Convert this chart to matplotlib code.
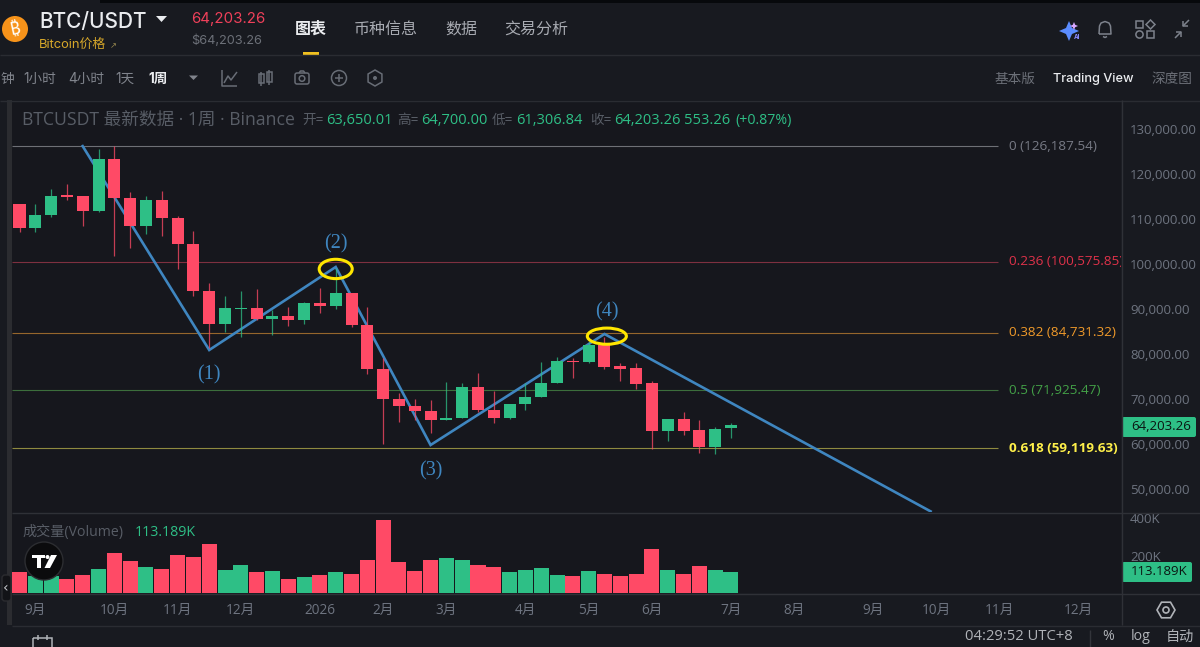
import matplotlib
matplotlib.use("Agg")
import matplotlib.pyplot as plt
from matplotlib.patches import Circle, Ellipse, Rectangle, FancyBboxPatch, Polygon, RegularPolygon

# Weekly BTC/USDT candles: open, high, low, close
opens = [113460, 107990, 110880, 115300, 115175, 111906, 123403, 114798, 108436, 114351,
         110348, 104499, 94047, 86641, 90000, 90266, 87819, 88553, 87664, 91311,
         90777, 93535, 86552, 76699, 70094, 68537, 67425, 65357, 65735, 72629,
         67692, 65735, 68849, 70472, 73519, 78500, 78256, 82104, 77367, 76922,
         73519, 62977, 65579, 63066, 59285, 63650.01]
highs = [113460, 113400, 116660, 117843, 115175, 125561, 126187.54, 116000, 115242, 116287,
         110727, 107391, 95893, 92868, 94047, 94425, 89821, 90421, 91533, 94647,
         99162, 93600, 90555, 79079, 71295, 69961, 69805, 73875, 73653, 75743,
         71807, 68915, 73519, 78189, 79435, 79213, 82771, 83816, 77967, 78101,
         73964, 65579, 67069, 65357, 63867, 64700.00]
lows = [107240, 107240, 110570, 114285, 108570, 111550, 101897, 103542, 106658, 106279,
        98873, 93001, 81303, 84995, 83816, 87597, 84261, 86263, 86641, 89221,
        90043, 85973, 75521, 59953, 64979, 65357, 62399, 65250, 65735, 67203,
        64757, 65513, 67581, 70472, 73519, 74631, 78034, 76633, 74097, 72251,
        58907, 60687, 62021, 57951, 57729, 61306.84]
closes = [107990, 111020, 115180, 114900, 111906, 123403, 114730, 108436, 114351, 110282,
          104499, 93980, 86641, 90266, 90300, 87819, 88553, 87664, 91311, 90777,
          93535, 86418, 76633, 70027, 68537, 67425, 65357, 65802, 72629, 67514,
          65735, 68915, 70539, 73653, 78412, 78200, 82104, 77211, 76699, 73363,
          62977, 65579, 62977, 59285, 63355, 64203.26]
volumes = [115, 92, 92, 74, 97, 129, 214, 173, 140, 129, 202, 191, 262, 122, 152, 112, 119, 74,
           88, 97, 112, 104, 177, 386, 166, 119, 177, 188, 177, 149, 140, 115, 126, 133, 97, 94,
           119, 101, 90, 101, 235, 122, 104, 145, 122, 113.189]
last_change = 553.26
last_change_pct = 0.87

# Retracement levels
fib_ratios = ["0", "0.236", "0.382", "0.5", "0.618"]
fib_prices = [126187.54, 100575.85, 84731.32, 71925.47, 59119.63]
fib_line_colors = ["#6e7076", "#7e3040", "#96662c", "#3c6e3c", "#8f8a40"]
fib_text_colors = ["#787b86", "#e0324a", "#f09a2a", "#43a047", "#fff04a"]

# Hand-drawn wave path
wave_x = [3.95, 12, 20, 26, 37, 57.7]
wave_y = [126517, 80925, 99385, 59797, 84484, 44896]
wave_labels = ["(1)", "(2)", "(3)", "(4)"]
wave_label_x = [11.95, 20, 26, 37.15]
wave_label_y = [75400, 104500, 54100, 89400]

month_pos = [1, 6, 10, 14, 19, 23, 27, 32, 36, 40, 45, 49, 54, 58, 62, 67]
month_labels = ["9月", "10月", "11月", "12月", "2026", "2月", "3月", "4月", "5月", "6月",
                "7月", "8月", "9月", "10月", "11月", "12月"]
price_ticks = [50000, 60000, 70000, 80000, 90000, 100000, 110000, 120000, 130000]
volume_ticks = [200, 400]

BG = "#16171d"
PANEL = "#181a20"
GREEN = "#2ebf86"
RED = "#ff4a66"
AXIS = "#6e7480"
RULE = "#2a2c32"
BLUE = "#3f86c0"
FONT = ["Open Sans", "Noto Sans CJK SC", "DejaVu Sans"]
UI = ["Inter", "Noto Sans CJK SC", "DejaVu Sans"]
plt.rcParams["font.family"] = FONT

W, H = 1200, 647
fig = plt.figure(figsize=(W / 100, H / 100), dpi=100, facecolor=PANEL)


def frame(x0, y0, x1, y1, **kw):
    return fig.add_axes([x0 / W, (H - y1) / H, (x1 - x0) / W, (y1 - y0) / H], **kw)


ax = frame(12, 100, 1121, 512, facecolor=BG)
vol = frame(12, 512, 1121, 593.3, facecolor=BG)
for a in (ax, vol):
    a.set_xlim(-0.4744, 69.67)
    for s in a.spines.values():
        s.set_visible(False)
ax.set_ylim(44896, 136525)
vol.set_ylim(0, 431)

# Price panel
ax.hlines(fib_prices, -0.4744, 61.9, colors=fib_line_colors, lw=0.8, zorder=1)
for ratio, price, col in zip(fib_ratios, fib_prices, fib_text_colors):
    ax.text(62.6, price, f"{ratio} ({price:,.2f})", color=col, fontsize=9.7, va="center",
            ha="left", clip_on=True, fontweight="bold" if ratio == "0.618" else "normal")

ax.plot(wave_x, wave_y, color=BLUE, lw=1.9, zorder=2, solid_joinstyle="miter", solid_capstyle="butt")

xs = list(range(len(opens)))
colors = [GREEN if c >= o else RED for o, c in zip(opens, closes)]
ax.vlines(xs, lows, highs, colors=colors, lw=0.9, alpha=0.75, zorder=3)
ax.bar(xs, [abs(c - o) for o, c in zip(opens, closes)], bottom=[min(o, c) for o, c in zip(opens, closes)],
       width=0.76, color=colors, linewidth=0, zorder=4)

ax.add_patch(Ellipse((20, 98950), 2.09, 4300, fill=False, ec="#ffe600", lw=2.2, zorder=6))
ax.add_patch(Ellipse((37.15, 84000), 2.47, 3600, fill=False, ec="#ffe600", lw=2.2, zorder=6))
for t, x, y in zip(wave_labels, wave_label_x, wave_label_y):
    ax.text(x, y, t, color=BLUE, fontsize=14.5, family=["Liberation Serif"], ha="center", va="center", zorder=6)

ax.yaxis.tick_right()
ax.set_yticks(price_ticks, [f"{v:,.2f}" for v in price_ticks])
ax.tick_params(axis="y", length=0, pad=6.5, labelsize=9.5, labelcolor=AXIS)
ax.set_xticks([])

# Volume panel
vol.bar(xs, volumes, width=0.95, color=colors, linewidth=0)
vol.yaxis.tick_right()
vol.set_yticks(volume_ticks, [f"{v}K" for v in volume_ticks])
vol.tick_params(axis="y", length=0, pad=6.5, labelsize=9.5, labelcolor=AXIS)
vol.set_xticks(month_pos, month_labels)
vol.tick_params(axis="x", length=0, pad=7, labelsize=9.8, labelcolor=AXIS)

# Surrounding application frame, laid out in pixels
ui = fig.add_axes([0, 0, 1, 1], facecolor="none", zorder=10)
ui.set_xlim(0, W)
ui.set_ylim(H, 0)
ui.axis("off")


def txt(x, y, s, color=AXIS, size=9.5, ha="left", weight="normal", family=None, **kw):
    return ui.text(x, y, s, color=color, fontsize=size, ha=ha, va="center", fontweight=weight,
                   family=family or FONT, **kw)


def line(xs_, ys_, color=RULE, lw=1.0, **kw):
    ui.plot(xs_, ys_, color=color, lw=lw, solid_capstyle="butt", **kw)


ui.add_patch(Rectangle((100, 0), 1100, 3, color="#07090c", lw=0))
ui.add_patch(Rectangle((7, 100), 5, 525, color="#2b2c30", lw=0))
line([0, W], [54.5, 54.5])
line([0, W], [100.5, 100.5])
line([12, W], [512.5, 512.5], color="#2f3137")
line([12, W], [593.5, 593.5], color="#2f3137")
line([12, W], [625.5, 625.5])
line([1121.5, 1121.5], [100, 625], color="#2f3137")

# Header row
ui.add_patch(Circle((15, 29), 13, color="#f7931a", lw=0))
txt(15, 29, "₿", color="white", size=13, ha="center", weight="bold",
    family=["Noto Sans", "Roboto", "Inter", "Open Sans", "Lato", "Liberation Sans", "DejaVu Sans"], rotation=12)
txt(39, 21.5, "BTC/USDT", color="#eaecef", size=15, weight="medium", family=UI)
ui.add_patch(Polygon([[156, 16], [167, 16], [161.5, 22]], color="#eaecef", lw=0))
txt(39, 44.5, "Bitcoin价格", color="#d6a72a", size=9.3, family=UI)
txt(110, 45.5, "↗", color="#9a8a50", size=6, family=["DejaVu Sans"])
txt(191, 19, f"{closes[-1]:,.2f}", color="#f0405a", size=10.8, family=UI)
txt(191, 41, f"${closes[-1]:,.2f}", color="#6c7078", size=9.2, family=UI)
txt(295, 29, "图表", color="#eaecef", size=11.5, weight="bold", family=UI)
for x_, s_ in [(354, "币种信息"), (445, "数据"), (504, "交易分析")]:
    txt(x_, 29, s_, color="#a8abb2", size=11.5, family=UI)
ui.add_patch(Rectangle((303, 52), 16, 2.5, color="#f0c020", lw=0))

# Header icons
ui.add_patch(Polygon([[1069, 21], [1072, 28], [1079, 31], [1072, 34], [1069, 41], [1066, 34], [1059, 31], [1066, 28]],
                     color="#5b8cff", lw=0))
ui.add_patch(Polygon([[1074, 22], [1075.2, 24.8], [1078, 26], [1075.2, 27.2], [1074, 30], [1072.8, 27.2], [1070, 26], [1072.8, 24.8]],
                     color="#d9a8ff", lw=0))
txt(1074, 37, "AI", color="#8a8cff", size=4.5, weight="bold", family=UI)
line([1099, 1099.5, 1101, 1105, 1109, 1110.5, 1111, 1099], [34, 26, 23, 21.5, 23, 26, 34, 34], color="#7d828c", lw=1.1)
line([1103, 1105, 1107], [36.5, 37.5, 36.5], color="#7d828c", lw=1.1)
ui.add_patch(Rectangle((1136, 21), 7, 7, fill=False, ec="#7d828c", lw=1.1))
ui.add_patch(Rectangle((1147, 31), 7, 7, fill=False, ec="#7d828c", lw=1.1))
ui.add_patch(Circle((1139.5, 34.5), 3.6, fill=False, ec="#7d828c", lw=1.1))
ui.add_patch(Polygon([[1150.5, 20], [1155, 24.5], [1150.5, 29], [1146, 24.5]], fill=False, ec="#7d828c", lw=1.1))
line([1175, 1181], [38, 32], color="#7d828c", lw=1.1)
line([1176, 1181, 1181], [32, 32, 37], color="#7d828c", lw=1.1)
line([1183, 1189], [26, 20], color="#7d828c", lw=1.1)
line([1183, 1183, 1188], [21, 26, 26], color="#7d828c", lw=1.1)

# Toolbar row
txt(0, 78.5, "钟", color="#80848c", size=9.8, family=UI)
for x_, s_ in [(23, "1小时"), (68, "4小时"), (115, "1天")]:
    txt(x_, 78.5, s_, color="#80848c", size=9.8, family=UI)
txt(148, 78.5, "1周", color="#eaecef", size=9.8, weight="bold", family=UI)
ui.add_patch(Polygon([[189, 75.5], [198, 75.5], [193.5, 80]], color="#80848c", lw=0))
ICON = "#686d76"
line([222, 222, 237], [70, 86, 86], color=ICON, lw=1.1)
line([224, 228, 231, 237], [83, 76, 80, 72], color=ICON, lw=1.1)
for x_, y0_, y1_ in [(261, 74, 83), (269, 72, 82)]:
    ui.add_patch(Rectangle((x_ - 2.5, y0_), 5, y1_ - y0_, fill=False, ec=ICON, lw=1.1))
    line([x_, x_], [y0_ - 2.5, y1_ + 2.5], color=ICON, lw=1.1)
ui.add_patch(FancyBboxPatch((295, 73), 14, 11, boxstyle="round,pad=0,rounding_size=2", fill=False, ec=ICON, lw=1.1))
ui.add_patch(Circle((302, 78.5), 2.8, fill=False, ec=ICON, lw=1.1))
line([299, 300.5, 303.5, 305], [73, 71, 71, 73], color=ICON, lw=1.1)
ui.add_patch(Circle((339, 78), 7.5, fill=False, ec=ICON, lw=1.1))
line([335, 343], [78, 78], color=ICON, lw=1.1)
line([339, 339], [74, 82], color=ICON, lw=1.1)
ui.add_patch(RegularPolygon((375, 78), 6, radius=8, fill=False, ec=ICON, lw=1.1))
ui.add_patch(Circle((375, 78), 2, color=ICON, lw=0))
txt(995, 78.5, "基本版", color="#6c7078", size=9.8, family=UI)
txt(1053, 79, "Trading View", color="#eaecef", size=9.2, weight="medium", family=UI)
txt(1151, 78.5, "深度图", color="#6c7078", size=9.8, family=UI)

# Symbol legend
txt(22, 120.5, "BTCUSDT 最新数据 · 1周 · Binance", color="#585d66", size=12.7)
for x_, lab, val in [(302, "开=", opens[-1]), (397, "高=", highs[-1]), (492, "低=", lows[-1]), (590, "收=", closes[-1])]:
    txt(x_, 120.5, lab, color="#585d66", size=9.8)
    txt(x_ + 24, 120.5, f"{val:,.2f}", color=GREEN, size=10.5)
txt(684, 120.5, f"{last_change:.2f}", color=GREEN, size=10.5)
txt(735, 120.5, f"(+{last_change_pct:.2f}%)", color=GREEN, size=10.2)

# Volume legend and overlay badge
txt(22, 532.5, "成交量(Volume)", color="#585d66", size=10.2)
txt(135, 532, f"{volumes[-1]:.3f}K", color=GREEN, size=10.2)
ui.add_patch(Circle((44, 561), 19, fc="#0b0b0d", ec="#2c2d31", lw=1))
ui.add_patch(Polygon([[32, 555], [45, 555], [45, 558], [41, 558], [41, 568], [36.5, 568], [36.5, 558], [32, 558]], color="white", lw=0))
ui.add_patch(Circle((47.5, 557), 2, color="white", lw=0))
ui.add_patch(Polygon([[51, 555], [57, 555], [50, 568], [44.5, 568]], color="white", lw=0))
ui.add_patch(FancyBboxPatch((2, 575), 9, 26, boxstyle="round,pad=0,rounding_size=3", fc="#121317", ec="#2b2c30", lw=1))
txt(6, 588, "‹", color="#c8cbd0", size=10, ha="center", family=["DejaVu Sans"])

# Last-value tags on the scales
ui.add_patch(FancyBboxPatch((1122, 417), 74, 20, boxstyle="round,pad=0,rounding_size=2", color=GREEN, lw=0))
txt(1131, 426.5, f"{closes[-1]:,.2f}", color="#0b1512", size=9.5)
ui.add_patch(FancyBboxPatch((1122, 562), 70, 20, boxstyle="round,pad=0,rounding_size=2", color=GREEN, lw=0))
txt(1131, 571.5, f"{volumes[-1]:.3f}K", color="#0b1512", size=9.5)
ui.add_patch(RegularPolygon((1166, 610), 6, radius=9, orientation=0.5236, fill=False, ec="#b0b3b8", lw=1.2))
ui.add_patch(Circle((1166, 610), 3, fill=False, ec="#b0b3b8", lw=1.2))

# Bottom status bar
ui.add_patch(Rectangle((33, 638), 19, 14, fill=False, ec="#b0b3b8", lw=1.1, clip_on=True))
line([38, 38], [634.5, 640], color="#b0b3b8", lw=1.1)
line([47, 47], [634.5, 640], color="#b0b3b8", lw=1.1)
txt(965, 637, "04:29:52 UTC+8", color="#b0b3b8", size=10.6)
line([1089.5, 1089.5], [630, 647], color="#33353b")
txt(1102, 637, "%", color="#b0b3b8", size=10.2)
txt(1131, 637, "log", color="#b0b3b8", size=10.2)
txt(1166, 637, "自动", color="#b0b3b8", size=10.2)

fig.savefig("out.png", dpi=100, facecolor=PANEL)
